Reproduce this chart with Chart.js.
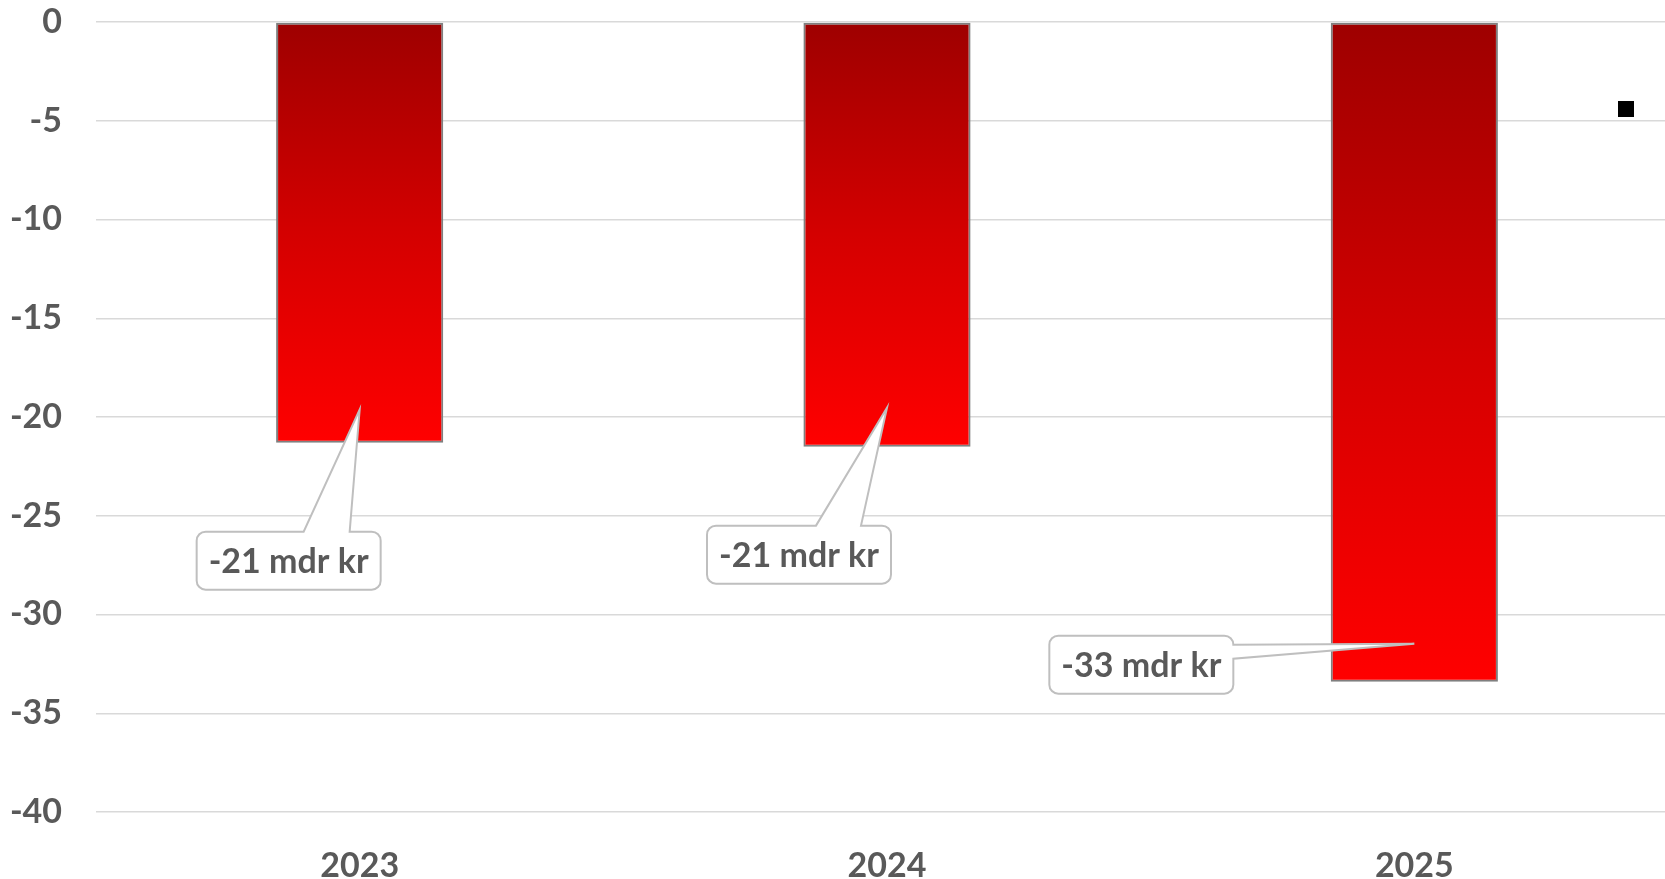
<!DOCTYPE html>
<html>
<head>
<meta charset="utf-8">
<script src="https://cdn.jsdelivr.net/npm/chart.js@4/dist/chart.umd.min.js"></script>
<style>
  html, body { margin: 0; padding: 0; background: #fff; overflow: hidden; }
  #wrap { width: 1680px; height: 879px; }
</style>
</head>
<body>
<div id="wrap"><canvas id="deficitChart" width="1680" height="879"></canvas></div>
<script>
// values (mdr kr)
const years = ['2023', '2024', '2025'];
const deficit = [-21.3, -21.5, -33.4];
const yMin = -40;
const yMax = 0;
const yStep = 5;

const textGrey = '#595959';
const font = { family: 'Lato', weight: 'bold', size: 34 };

// callout boxes: placement relative to the pointer tip
const callouts = [
  { tipDy: -33, dx: -163, dy: 122, side: 'top', b0: 107, b1: 153 },
  { tipDy: -39, dx: -180, dy: 118, side: 'top', b0: 109, b1: 154 },
  { tipDy: -38, dx: -365, dy: -8, side: 'right', b0: 9, b1: 23 }
];

function calloutPath(ctx, x, y, w, h, r, c, tx, ty) {
  ctx.beginPath();
  ctx.moveTo(x + r, y);
  if (c.side === 'top') {
    ctx.lineTo(x + c.b0, y);
    ctx.lineTo(tx, ty);
    ctx.lineTo(x + c.b1, y);
  }
  ctx.lineTo(x + w - r, y);
  ctx.arcTo(x + w, y, x + w, y + r, r);
  if (c.side === 'right') {
    ctx.lineTo(x + w, y + c.b0);
    ctx.lineTo(tx, ty);
    ctx.lineTo(x + w, y + c.b1);
  }
  ctx.lineTo(x + w, y + h - r);
  ctx.arcTo(x + w, y + h, x + w - r, y + h, r);
  ctx.lineTo(x + r, y + h);
  ctx.arcTo(x, y + h, x, y + h - r, r);
  ctx.lineTo(x, y + r);
  ctx.arcTo(x, y, x + r, y, r);
  ctx.closePath();
}

const calloutPlugin = {
  id: 'callouts',
  afterDatasetsDraw(chart) {
    const ctx = chart.ctx;
    const bars = chart.getDatasetMeta(0).data;
    ctx.save();
    bars.forEach((bar, i) => {
      const c = callouts[i];
      const tx = bar.x, ty = bar.y + c.tipDy;
      const bx = tx + c.dx, by = ty + c.dy, bw = 184, bh = 58;
      calloutPath(ctx, bx, by, bw, bh, 9, c, tx, ty);
      ctx.fillStyle = '#ffffff';
      ctx.fill();
      ctx.lineWidth = 2;
      ctx.strokeStyle = '#bfbfbf';
      ctx.stroke();
      ctx.fillStyle = textGrey;
      ctx.font = 'bold 34px Lato';
      ctx.textAlign = 'center';
      ctx.textBaseline = 'middle';
      ctx.fillText(Math.round(deficit[i]) + ' mdr kr', bx + bw / 2, by + bh / 2 + 1);
    });
    // stray legend key
    ctx.fillStyle = '#000';
    ctx.fillRect(1618, 101, 16, 16);
    ctx.restore();
  }
};

new Chart(document.getElementById('deficitChart'), {
  type: 'bar',
  data: {
    labels: years,
    datasets: [{
      data: deficit,
      backgroundColor: function(c) {
        const chart = c.chart;
        if (!chart.chartArea || c.type !== 'data') return '#d00000';
        const y = chart.scales.y;
        const g = chart.ctx.createLinearGradient(0, y.getPixelForValue(0), 0, y.getPixelForValue(c.raw));
        g.addColorStop(0, '#9e0000');
        g.addColorStop(0.5, '#d40000');
        g.addColorStop(1, '#ff0000');
        return g;
      },
      borderColor: '#7f7f7f',
      borderWidth: 2,
      borderSkipped: false,
      barPercentage: 1,
      categoryPercentage: 0.317
    }]
  },
  options: {
    responsive: false,
    animation: false,
    devicePixelRatio: 1,
    layout: { padding: { top: 22, right: 2, left: 0, bottom: 0 } },
    plugins: {
      legend: { display: false },
      tooltip: { enabled: false }
    },
    scales: {
      x: {
        grid: { display: false },
        border: { display: false },
        ticks: { color: textGrey, font: font, padding: 26 },
        afterFit: function(s) { s.height = 67; }
      },
      y: {
        min: yMin,
        max: yMax,
        ticks: {
          stepSize: yStep,
          color: textGrey,
          font: font,
          padding: 34,
          callback: v => String(v)
        },
        grid: { color: '#d9d9d9', lineWidth: 1.5, drawTicks: false },
        border: { display: false },
        afterFit: function(s) {
          s.width = 96;
          s.paddingTop = 0;
          s.paddingBottom = 0;
        }
      }
    }
  },
  plugins: [calloutPlugin]
});
</script>
</body>
</html>
